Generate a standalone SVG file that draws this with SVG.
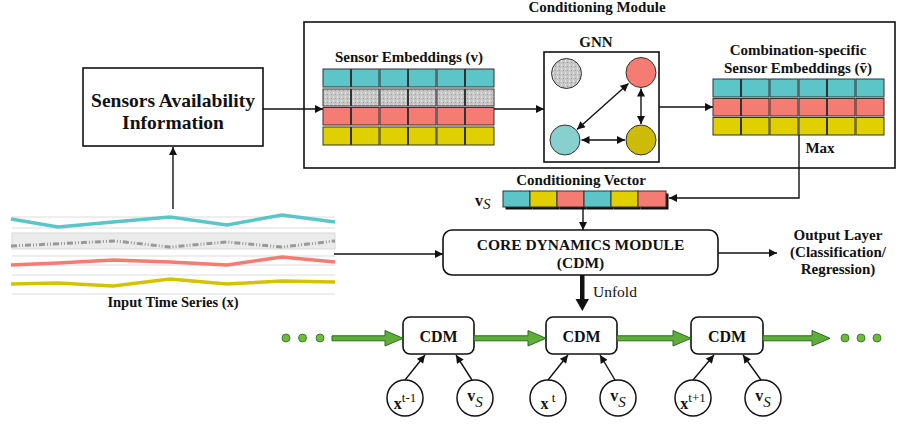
<svg xmlns="http://www.w3.org/2000/svg" width="897" height="424" viewBox="0 0 897 424">
<style>
text{font-family:"Liberation Serif","DejaVu Serif","Times New Roman",serif;fill:#111}
.b{font-weight:bold}
.box{fill:#fff;stroke:#111;stroke-width:1.6}
.ln{fill:none;stroke:#111;stroke-width:1.4}
.cell{stroke:#333;stroke-width:1}
.cy{fill:#5bc5c8}.gr{fill:url(#tex)}.rd{fill:#f47c72}.yl{fill:#e0d000}
.grid{stroke:#dcdcdc;stroke-width:1}
.ga{fill:#5fae3a;stroke:#2e6b1c;stroke-width:1}
.dot{fill:#6cbb3c;stroke:#2e6b1c;stroke-width:0.8}
.circ{fill:#fff;stroke:#111;stroke-width:1.5}
</style>
<defs>
<marker id="ah" viewBox="0 0 10 10" refX="10" refY="5" markerWidth="10" markerHeight="8" markerUnits="userSpaceOnUse" orient="auto-start-reverse"><path d="M0,0 L10,5 L0,10 z" fill="#111"/></marker>
<pattern id="tex" width="4" height="4" patternUnits="userSpaceOnUse"><rect width="4" height="4" fill="#c6c6c6"/><rect x="1" y="0" width="1" height="2" fill="#e4e4e4"/><rect x="3" y="2" width="1" height="1" fill="#9a9a9a"/></pattern>
</defs>

<!-- Input time series -->
<g id="input-series">
<line class="grid" x1="12" y1="217" x2="335" y2="217"/>
<line class="grid" x1="12" y1="228" x2="335" y2="228"/>
<rect x="12" y="233" width="323" height="16" fill="#ebebeb" stroke="#d8d8d8"/>
<line class="grid" x1="12" y1="256" x2="335" y2="256"/>
<line class="grid" x1="12" y1="265" x2="335" y2="265"/>
<line class="grid" x1="12" y1="275" x2="335" y2="275"/>
<line class="grid" x1="12" y1="294" x2="335" y2="294"/>
<polyline fill="none" stroke="#5bc5c8" stroke-width="3.5" points="11,219 58,227 113,222 170,217 227,225 282,215 335,222"/>
<polyline fill="none" stroke="#999" stroke-width="3" stroke-dasharray="6,2,1,2,1,2" points="11,246 115,241 170,247 227,242 282,247 335,241"/>
<polyline fill="none" stroke="#f47c72" stroke-width="3.5" points="11,265 58,263 113,260 170,262 227,265 282,257 335,262"/>
<polyline fill="none" stroke="#d4c400" stroke-width="3.5" points="11,284 58,283 113,286 170,279 227,284 282,281 335,282"/>
<text class="b" x="173" y="307" font-size="14.5" text-anchor="middle">Input Time Series (x)</text>
</g>

<!-- Sensors availability -->
<g id="sensors-availability">
<rect class="box" x="83" y="68" width="180" height="78"/>
<text class="b" x="173" y="107" font-size="19.5" text-anchor="middle">Sensors Availability</text>
<text class="b" x="173" y="129" font-size="19.5" text-anchor="middle">Information</text>
</g>

<!-- Conditioning module -->
<g id="conditioning-module">
<rect class="box" x="304" y="22" width="591" height="146" fill="none"/>
<text class="b" x="597" y="12" font-size="15" text-anchor="middle">Conditioning Module</text>
</g>

<g id="sensor-embeddings">
<text class="b" x="409" y="62" font-size="15" text-anchor="middle">Sensor Embeddings (v)</text>
<g class="cell">
<rect class="cy" x="323" y="69" width="27.5" height="18"/><rect class="cy" x="351.5" y="69" width="27.5" height="18"/><rect class="cy" x="380" y="69" width="27.5" height="18"/><rect class="cy" x="408.5" y="69" width="27.5" height="18"/><rect class="cy" x="437" y="69" width="27.5" height="18"/><rect class="cy" x="465.5" y="69" width="28.5" height="18"/>
<rect class="gr" x="323" y="89" width="27.5" height="17"/><rect class="gr" x="351.5" y="89" width="27.5" height="17"/><rect class="gr" x="380" y="89" width="27.5" height="17"/><rect class="gr" x="408.5" y="89" width="27.5" height="17"/><rect class="gr" x="437" y="89" width="27.5" height="17"/><rect class="gr" x="465.5" y="89" width="28.5" height="17"/>
<rect class="rd" x="323" y="107.5" width="27.5" height="17.5"/><rect class="rd" x="351.5" y="107.5" width="27.5" height="17.5"/><rect class="rd" x="380" y="107.5" width="27.5" height="17.5"/><rect class="rd" x="408.5" y="107.5" width="27.5" height="17.5"/><rect class="rd" x="437" y="107.5" width="27.5" height="17.5"/><rect class="rd" x="465.5" y="107.5" width="28.5" height="17.5"/>
<rect class="yl" x="323" y="127" width="27.5" height="18"/><rect class="yl" x="351.5" y="127" width="27.5" height="18"/><rect class="yl" x="380" y="127" width="27.5" height="18"/><rect class="yl" x="408.5" y="127" width="27.5" height="18"/><rect class="yl" x="437" y="127" width="27.5" height="18"/><rect class="yl" x="465.5" y="127" width="28.5" height="18"/>
</g>
</g>

<g id="gnn">
<text class="b" x="596" y="47" font-size="15" text-anchor="middle">GNN</text>
<rect class="box" x="544" y="52" width="115" height="110"/>
<circle cx="566.5" cy="73.5" r="15" fill="url(#tex)" stroke="#333" stroke-width="1"/>
<circle cx="641" cy="72.5" r="15" fill="#f47c72" stroke="#333" stroke-width="1"/>
<circle cx="565" cy="140" r="15" fill="#88d0d0" stroke="#333" stroke-width="1"/>
<circle cx="641" cy="140" r="15" fill="#cdbb0a" stroke="#333" stroke-width="1"/>
<line class="ln" x1="577" y1="129.5" x2="628.5" y2="83.5" marker-start="url(#ah)" marker-end="url(#ah)"/>
<line class="ln" x1="641" y1="88.5" x2="641" y2="124" marker-start="url(#ah)" marker-end="url(#ah)"/>
<line class="ln" x1="581.5" y1="140" x2="625" y2="140" marker-start="url(#ah)" marker-end="url(#ah)"/>
</g>

<g id="combination-embeddings">
<text class="b" x="798" y="55" font-size="15" text-anchor="middle">Combination-specific</text>
<text class="b" x="798" y="73" font-size="15" text-anchor="middle">Sensor Embeddings (ṽ)</text>
<g class="cell">
<rect class="cy" x="713" y="79" width="27.5" height="18"/><rect class="cy" x="741.5" y="79" width="27.5" height="18"/><rect class="cy" x="770" y="79" width="28" height="18"/><rect class="cy" x="799" y="79" width="27.5" height="18"/><rect class="cy" x="827.5" y="79" width="27.5" height="18"/><rect class="cy" x="856" y="79" width="28" height="18"/>
<rect class="rd" x="713" y="98.5" width="27.5" height="17.5"/><rect class="rd" x="741.5" y="98.5" width="27.5" height="17.5"/><rect class="rd" x="770" y="98.5" width="28" height="17.5"/><rect class="rd" x="799" y="98.5" width="27.5" height="17.5"/><rect class="rd" x="827.5" y="98.5" width="27.5" height="17.5"/><rect class="rd" x="856" y="98.5" width="28" height="17.5"/>
<rect class="yl" x="713" y="117.5" width="27.5" height="17.5"/><rect class="yl" x="741.5" y="117.5" width="27.5" height="17.5"/><rect class="yl" x="770" y="117.5" width="28" height="17.5"/><rect class="yl" x="799" y="117.5" width="27.5" height="17.5"/><rect class="yl" x="827.5" y="117.5" width="27.5" height="17.5"/><rect class="yl" x="856" y="117.5" width="28" height="17.5"/>
</g>
<text class="b" x="820" y="153" font-size="15" text-anchor="middle">Max</text>
</g>

<g id="conditioning-vector">
<text class="b" x="581" y="185" font-size="15" text-anchor="middle">Conditioning Vector</text>
<text x="475" y="206" font-size="16"><tspan class="b">v</tspan><tspan font-style="italic" font-size="15" dy="3">S</tspan></text>
<g fill="#111">
<rect x="505.5" y="193.5" width="27" height="16"/><rect x="532.5" y="193.5" width="27" height="16"/><rect x="559.5" y="193.5" width="27" height="16"/><rect x="586.5" y="193.5" width="27" height="16"/><rect x="613.5" y="193.5" width="27" height="16"/><rect x="640.5" y="193.5" width="28" height="16"/>
</g>
<g class="cell">
<rect class="cy" x="503" y="191" width="27" height="16"/><rect class="yl" x="530" y="191" width="27" height="16"/><rect class="rd" x="557" y="191" width="27" height="16"/><rect class="cy" x="584" y="191" width="27" height="16"/><rect class="yl" x="611" y="191" width="27" height="16"/><rect class="rd" x="638" y="191" width="28" height="16"/>
</g>
</g>

<g id="core-dynamics-module">
<rect class="box" x="443" y="230" width="275" height="45" rx="9"/>
<text class="b" x="580.5" y="250" font-size="15.5" text-anchor="middle">CORE DYNAMICS MODULE</text>
<text class="b" x="580.5" y="268" font-size="15.5" text-anchor="middle">(CDM)</text>
</g>

<g id="output-layer">
<text class="b" x="838" y="240" font-size="15" text-anchor="middle">Output Layer</text>
<text class="b" x="838" y="257" font-size="15" text-anchor="middle">(Classification/</text>
<text class="b" x="838" y="274" font-size="15" text-anchor="middle">Regression)</text>
</g>

<g id="unfold">
<rect x="580" y="275" width="4.5" height="25" fill="#111"/>
<path d="M575.5,299 L589,299 L582.3,311 z" fill="#111"/>
<text x="593" y="297" font-size="15.5">Unfold</text>
</g>

<!-- unfolded chain -->
<g id="cdm-1"><rect class="box" x="403" y="317" width="71" height="37" rx="7"/><text class="b" x="438.5" y="342" font-size="16" text-anchor="middle">CDM</text></g>
<g id="cdm-2"><rect class="box" x="546" y="317" width="71" height="37" rx="7"/><text class="b" x="581.5" y="342" font-size="16" text-anchor="middle">CDM</text></g>
<g id="cdm-3"><rect class="box" x="691" y="317" width="72" height="37" rx="7"/><text class="b" x="727" y="342" font-size="16" text-anchor="middle">CDM</text></g>

<g id="in-x-tm1"><circle class="circ" cx="405" cy="398" r="18"/><text x="405" y="409" font-size="16" text-anchor="middle"><tspan class="b">x</tspan><tspan font-size="13" dy="-7">t-1</tspan></text></g>
<g id="in-vs-1"><circle class="circ" cx="475" cy="398" r="18"/><text x="475" y="401" font-size="16" text-anchor="middle"><tspan class="b">v</tspan><tspan font-style="italic" font-size="15" dy="6">S</tspan></text></g>
<g id="in-x-t"><circle class="circ" cx="548" cy="398" r="18"/><text x="548" y="409" font-size="16" text-anchor="middle"><tspan class="b">x</tspan><tspan font-size="13" dy="-7"> t</tspan></text></g>
<g id="in-vs-2"><circle class="circ" cx="618" cy="398" r="18"/><text x="618" y="401" font-size="16" text-anchor="middle"><tspan class="b">v</tspan><tspan font-style="italic" font-size="15" dy="6">S</tspan></text></g>
<g id="in-x-tp1"><circle class="circ" cx="693" cy="398" r="18"/><text x="693" y="409" font-size="16" text-anchor="middle"><tspan class="b">x</tspan><tspan font-size="13" dy="-7">t+1</tspan></text></g>
<g id="in-vs-3"><circle class="circ" cx="763" cy="398" r="18"/><text x="763" y="401" font-size="16" text-anchor="middle"><tspan class="b">v</tspan><tspan font-style="italic" font-size="15" dy="6">S</tspan></text></g>

<g id="dots-left"><circle class="dot" cx="286" cy="338" r="4"/><circle class="dot" cx="302.5" cy="338" r="4"/><circle class="dot" cx="320" cy="338" r="4"/></g>
<g id="dots-right"><circle class="dot" cx="845" cy="338" r="4"/><circle class="dot" cx="861" cy="338" r="4"/><circle class="dot" cx="877" cy="338" r="4"/></g>

<!-- connectors -->
<g id="connectors">
<line class="ln" x1="173" y1="209" x2="173" y2="147" marker-end="url(#ah)"/>
<line class="ln" x1="263" y1="109" x2="323" y2="109" marker-end="url(#ah)"/>
<line class="ln" x1="494" y1="109" x2="544" y2="109" marker-end="url(#ah)"/>
<line class="ln" x1="659" y1="107" x2="713" y2="107" marker-end="url(#ah)"/>
<polyline class="ln" points="799,135 799,198 669,198" marker-end="url(#ah)"/>
<line class="ln" x1="583" y1="207" x2="583" y2="230" marker-end="url(#ah)"/>
<line class="ln" x1="334" y1="254" x2="443" y2="254" marker-end="url(#ah)"/>
<line class="ln" x1="718" y1="253" x2="777" y2="253" marker-end="url(#ah)"/>
<path class="ga" d="M332,335.8 L385,335.8 L385,330.5 L403,338.3 L385,346 L385,340.8 L332,340.8 z"/>
<path class="ga" d="M474,335.8 L528,335.8 L528,330.5 L546,338.3 L528,346 L528,340.8 L474,340.8 z"/>
<path class="ga" d="M617,335.8 L673,335.8 L673,330.5 L691,338.3 L673,346 L673,340.8 L617,340.8 z"/>
<path class="ga" d="M763,335.8 L812,335.8 L812,330.5 L830,338.3 L812,346 L812,340.8 L763,340.8 z"/>
<line class="ln" x1="405" y1="380" x2="425" y2="355" marker-end="url(#ah)"/>
<line class="ln" x1="472" y1="380" x2="456" y2="355" marker-end="url(#ah)"/>
<line class="ln" x1="548" y1="380" x2="568" y2="355" marker-end="url(#ah)"/>
<line class="ln" x1="615" y1="380" x2="600" y2="355" marker-end="url(#ah)"/>
<line class="ln" x1="693" y1="380" x2="714" y2="355" marker-end="url(#ah)"/>
<line class="ln" x1="761" y1="380" x2="743" y2="355" marker-end="url(#ah)"/>
</g>
</svg>
